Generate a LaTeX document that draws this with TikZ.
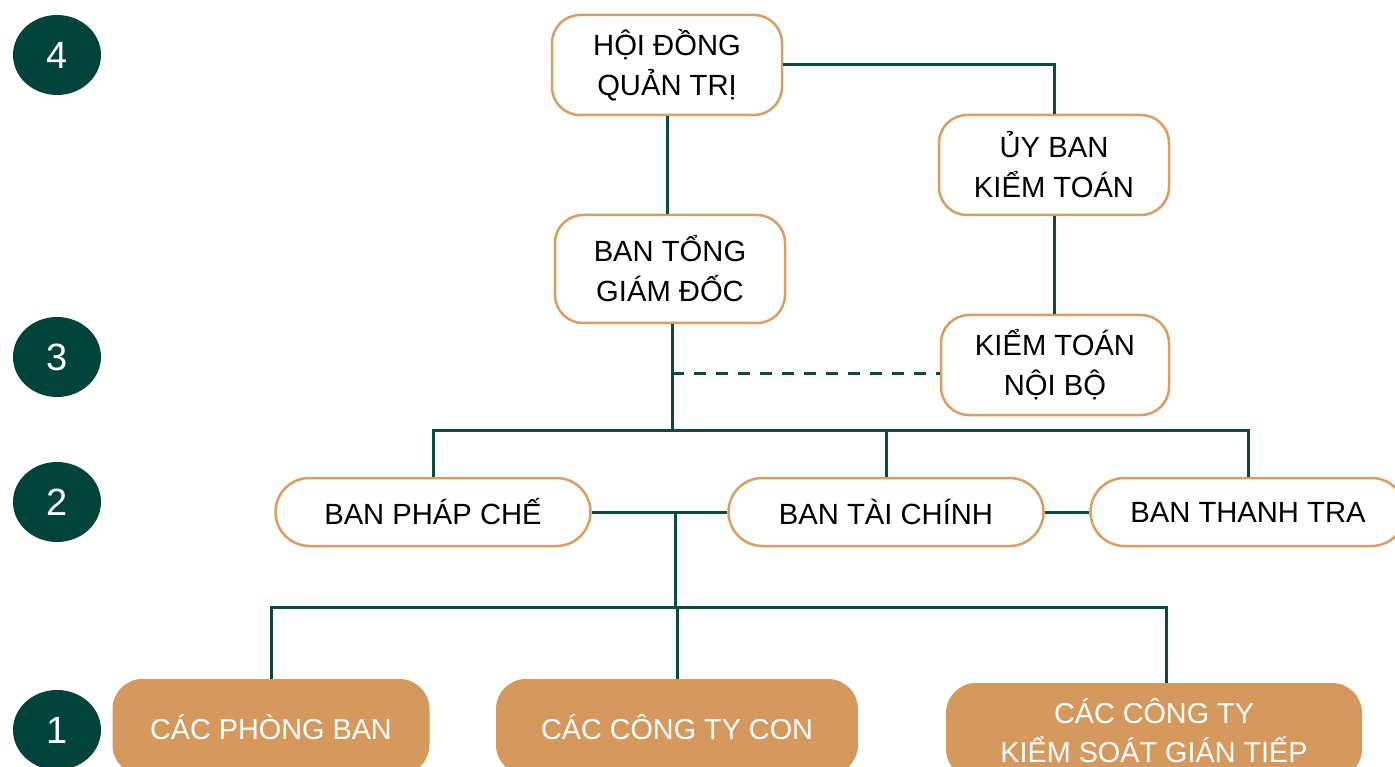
\documentclass[tikz,border=0pt]{standalone}
\usepackage{fontspec}
\setmainfont{Liberation Sans}
\usetikzlibrary{shapes.geometric}
\definecolor{lineGreen}{HTML}{0B4A3D}
\definecolor{dotGreen}{HTML}{00433A}
\definecolor{boxOrange}{HTML}{D99F62}
\definecolor{fillOrange}{HTML}{D5985D}
\tikzset{
	level/.style={ellipse, fill=dotGreen, text=white, minimum width=88pt, minimum height=80pt, inner sep=0, font=\fontsize{38}{40}\selectfont},
	unit/.style={draw=boxOrange, line width=2.5pt, fill=white, rounded corners=28pt, minimum width=230pt, minimum height=100pt, align=center, font=\fontsize{29.2}{40}\selectfont},
	dept/.style={unit, rounded corners=34pt, minimum width=315pt, minimum height=68pt},
	member/.style={fill=fillOrange, text=white, rounded corners=30pt, minimum height=96pt, align=center, font=\fontsize{28.8}{39}\selectfont},
	link/.style={draw=lineGreen, line width=3pt}
}

\begin{document}
\begin{tikzpicture}[x={(1pt,0)}, y={(0,-1pt)}]
	\fill[white] (0,0) rectangle (1395,767);
	\useasboundingbox (0,0) rectangle (1395,767);
	
	\node[level] (l4) at (57,55) {4};
	\node[level] (l3) at (57,357) {3};
	\node[level] (l2) at (57,502) {2};
	\node[level] (l1) at (57,730) {1};
	
	\node[unit] (hdqt) at (667,65) {HỘI ĐỒNG\\QUẢN TRỊ};
	\node[unit] (uyban) at (1054,165) {ỦY BAN\\KIỂM TOÁN};
	\node[unit, minimum height=108pt] (tgd) at (670,269) {BAN TỔNG\\GIÁM ĐỐC};
	\node[unit, minimum width=228pt] (ktnb) at (1055,365) {KIỂM TOÁN\\NỘI BỘ};
	
	\node[dept] (phapche) at (433,512) {BAN PHÁP CHẾ};
	\node[dept] (taichinh) at (886,512) {BAN TÀI CHÍNH};
	\node[dept] (thanhtra) at (1248,512) {BAN THANH TRA};
	
	\node[member, minimum width=317pt] (phongban) at (271,727) {CÁC PHÒNG BAN};
	\node[member, minimum width=362pt] (congtycon) at (677,727) {CÁC CÔNG TY CON};
	\node[member, minimum width=416pt] (ksgt) at (1154,731) {CÁC CÔNG TY\\KIỂM SOÁT GIÁN TIẾP};
	
	\coordinate (bus1) at (672,430);
	\coordinate (dash) at (672,373);
	\coordinate (bus2) at (675,607);
	\coordinate (ksgtTop) at ([xshift=12pt]ksgt.north);
	
	% board and audit
	\draw[link] (hdqt.east) -| (uyban.north);
	\draw[link] (hdqt.south) -- (hdqt.south |- tgd.north);
	\draw[link] (uyban.south) -- (uyban.south |- ktnb.north);
	\draw[link, dash pattern=on 12pt off 10pt] (dash) -- (dash -| ktnb.west);
	
	% departments
	\draw[link] (bus1 |- tgd.south) -- (bus1);
	\draw[link] (phapche.north) |- (bus1 -| thanhtra.north) -- (thanhtra.north);
	\draw[link] (taichinh.north) -- (taichinh.north |- bus1);
	\draw[link] (phapche.east) -- (taichinh.west);
	\draw[link] (taichinh.east) -- (thanhtra.west);
	
	% companies
	\draw[link] (bus2 |- phapche.east) -- (bus2);
	\draw[link] (phongban.north) |- (bus2 -| ksgtTop) -- (ksgtTop);
	\draw[link] (congtycon.north) -- (congtycon.north |- bus2);
\end{tikzpicture}
\end{document}
